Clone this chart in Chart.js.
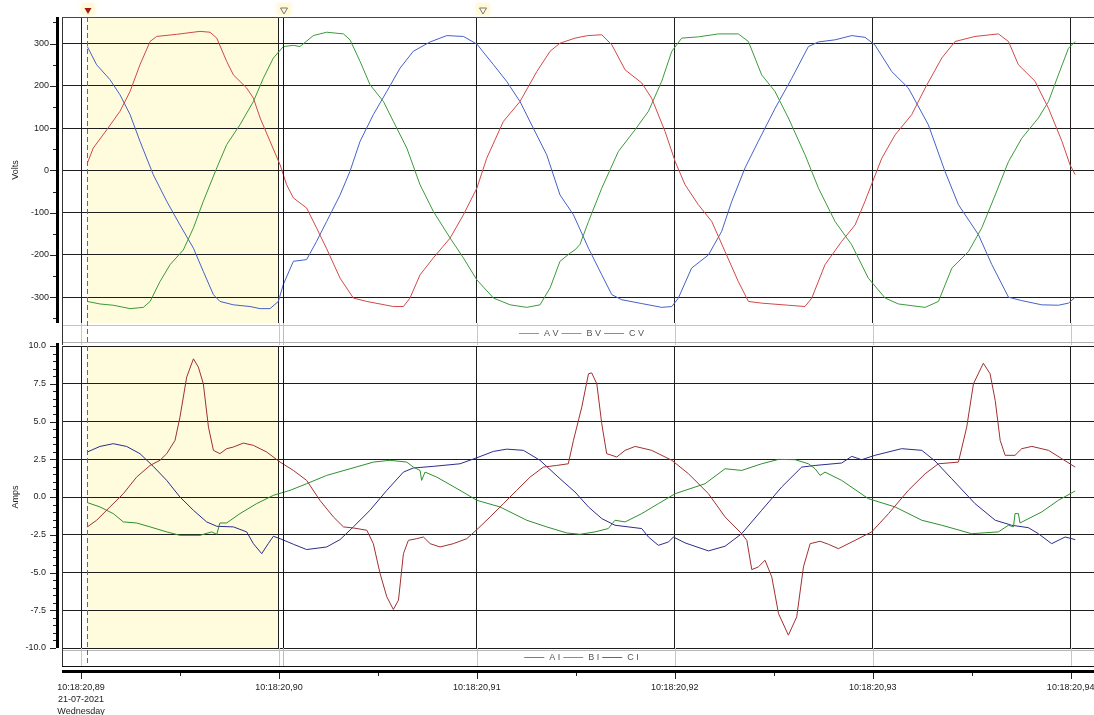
<!DOCTYPE html>
<html>
<head>
<meta charset="utf-8">
<script src="https://cdn.jsdelivr.net/npm/chart.js@4.4.1/dist/chart.umd.min.js"></script>
<style>
  html, body { margin: 0; padding: 0; background: #fff; }
  #wrap { position: relative; width: 1094px; height: 715px; overflow: hidden; background: #fff; }
  #wrap canvas { position: absolute; left: 0; top: 0; }
</style>
</head>
<body>
<div id="wrap">
  <canvas id="volts" width="1094" height="715"></canvas>
  <canvas id="amps" width="1094" height="715"></canvas>
</div>
<script>
// Time axis: milliseconds after 10:18:20,89
const timeLabels = ['10:18:20,89', '10:18:20,90', '10:18:20,91', '10:18:20,92', '10:18:20,93', '10:18:20,94'];
const dateLine = '21-07-2021';
const dayLine = 'Wednesday';

// Cursors (ms) and the highlighted interval
const cursorTimes = [0.32, 10.19, 20.25];
const shadeRange = [0.32, 10.0];

// Phase voltages (V)
const avT = [0.32,0.62,1.30,1.97,2.48,2.98,3.49,3.82,4.83,6.01,6.52,6.86,7.36,7.70,8.37,8.71,9.05,9.55,10.06,10.39,10.73,11.40,11.90,12.40,13.09,13.76,14.44,15.78,16.29,16.62,17.13,17.80,18.65,19.32,20.00,20.50,21.34,22.18,23.03,23.70,24.20,24.96,25.60,26.31,26.82,27.49,28.33,28.83,29.51,30.02,30.52,31.19,31.87,32.54,33.21,33.72,34.39,35.74,36.58,36.92,37.59,38.43,39.11,39.61,40.00,40.46,41.13,41.97,42.65,43.49,44.16,45.17,46.35,46.86,47.36,48.20,48.88,49.56,49.97,50.23];
const avV = [17,53,96,140,187,250,305,317,322,329,327,313,258,226,195,171,124,69,13,-34,-65,-89,-136,-184,-255,-302,-310,-322,-322,-302,-247,-207,-160,-105,-42,29,116,163,234,282,301,313,319,321,297,238,207,171,92,21,-34,-81,-121,-192,-263,-310,-314,-319,-322,-302,-223,-168,-129,-73,-26,29,84,132,195,266,305,317,323,305,250,211,147,69,13,-10];

const bvT = [0.32,0.96,1.63,2.48,3.15,3.49,3.99,4.50,5.17,5.68,6.18,6.86,7.36,8.03,8.71,9.21,9.72,10.22,10.73,11.06,11.74,12.41,13.26,13.59,14.10,14.60,15.28,15.78,16.46,17.13,17.80,18.65,19.32,20.00,20.84,21.68,22.52,23.19,23.70,24.20,24.70,24.96,25.21,25.64,26.31,27.15,27.99,28.67,29.34,29.85,30.35,31.19,32.20,33.21,33.72,34.39,35.06,35.74,36.58,37.26,38.10,38.94,39.78,40.63,41.30,42.65,43.32,44.00,44.84,45.51,46.19,46.86,47.53,48.37,48.88,49.38,49.89,50.23];
const bvV = [-310,-316,-319,-327,-324,-310,-263,-223,-188,-136,-73,6,61,108,163,218,266,293,296,293,319,327,323,309,258,203,163,116,53,-34,-97,-160,-207,-259,-302,-318,-324,-318,-278,-215,-196,-188,-175,-121,-42,45,96,140,211,282,313,316,323,323,305,226,187,124,37,-42,-121,-176,-255,-302,-316,-324,-310,-231,-192,-136,-58,21,76,124,163,226,289,305];

const cvT = [0.32,0.79,1.46,1.97,2.48,2.98,3.65,4.33,5.00,5.68,6.18,6.69,7.02,7.70,8.54,9.05,9.55,9.97,10.22,10.73,11.40,11.90,12.41,13.09,13.59,14.10,14.77,15.45,16.12,16.79,17.64,18.48,19.32,20.00,20.84,21.50,22.18,22.85,23.53,24.20,24.88,25.64,26.31,26.82,27.32,28.33,29.34,29.85,30.18,30.85,31.70,32.37,32.88,33.55,34.22,35.07,35.91,36.75,37.26,38.10,38.94,39.61,40.11,40.96,41.80,42.81,43.65,44.33,45.34,46.02,46.86,47.53,48.54,49.38,49.89,50.23];
const cvV = [293,250,215,179,132,69,-10,-73,-129,-184,-239,-294,-310,-318,-322,-327,-327,-310,-270,-215,-211,-168,-121,-58,-2,69,132,187,242,282,304,319,317,299,250,211,163,100,37,-58,-105,-184,-247,-294,-306,-315,-324,-322,-302,-231,-200,-144,-73,6,69,147,218,293,304,309,319,315,297,234,195,108,-2,-81,-152,-223,-300,-308,-318,-319,-314,-300];

// Phase currents (A)
const aiT = [0.32,0.79,1.46,2.14,2.81,3.49,3.99,4.33,4.75,5.00,5.34,5.68,5.93,6.18,6.44,6.69,7.02,7.36,7.70,8.20,8.71,9.38,10.06,10.73,11.40,12.07,12.75,13.26,13.76,14.44,14.77,15.11,15.45,15.78,16.04,16.29,16.54,16.96,17.30,17.64,18.14,18.81,19.49,20.00,20.67,21.34,22.01,22.69,23.36,24.03,24.62,24.88,25.30,25.64,25.80,26.06,26.31,26.56,27.07,27.49,28.00,28.83,29.85,30.69,31.70,32.54,33.38,33.64,33.89,34.22,34.56,34.90,35.24,35.74,36.16,36.50,36.84,37.34,37.76,38.27,39.11,39.95,40.80,41.80,42.65,43.32,44.33,44.75,45.09,45.59,45.93,46.19,46.44,46.69,47.19,47.53,48.04,48.88,49.55,50.23];
const aiV = [-1.98,-1.54,-0.66,0.22,1.32,2.09,2.43,2.87,3.75,5.29,7.94,9.15,8.60,7.50,4.63,3.09,2.87,3.20,3.31,3.57,3.42,2.98,2.31,1.76,1.10,-0.22,-1.32,-1.98,-2.05,-2.20,-3.09,-5.07,-6.61,-7.45,-6.83,-3.75,-2.87,-2.76,-2.65,-3.09,-3.31,-3.09,-2.76,-2.16,-1.32,-0.44,0.44,1.32,1.98,2.09,2.20,3.75,5.95,8.16,8.22,7.50,4.85,2.87,2.65,3.09,3.35,3.09,2.43,1.54,0.22,-1.32,-2.43,-2.87,-4.81,-4.63,-4.19,-5.29,-7.72,-9.15,-7.94,-4.63,-3.09,-2.93,-3.13,-3.42,-2.87,-2.31,-1.10,0.44,1.54,2.20,2.31,4.63,7.50,8.86,8.16,6.39,3.75,2.76,2.76,3.20,3.35,3.09,2.54,1.98];

const biT = [0.32,0.96,1.63,2.14,2.81,3.49,4.33,5.00,6.01,6.60,6.86,7.02,7.36,8.03,8.87,9.72,10.56,11.40,12.41,13.59,14.77,15.61,16.46,16.79,17.13,17.21,17.38,17.97,19.15,20.00,21.17,22.52,23.53,24.54,25.21,25.97,26.64,26.98,27.49,28.33,29.17,30.02,31.53,32.54,33.38,34.39,35.24,36.08,36.75,37.09,37.34,37.59,38.43,39.78,41.13,42.48,43.49,45.00,46.35,46.86,47.11,47.19,47.36,47.44,48.54,49.38,50.23];
const biV = [-0.37,-0.66,-1.10,-1.65,-1.72,-1.98,-2.31,-2.54,-2.54,-2.31,-2.47,-1.72,-1.72,-1.10,-0.44,0.11,0.44,0.88,1.43,1.87,2.31,2.43,2.31,1.98,1.76,1.10,1.65,1.32,0.44,-0.22,-0.66,-1.54,-1.98,-2.38,-2.47,-2.31,-2.09,-1.54,-1.65,-1.10,-0.44,0.22,0.88,1.87,1.76,2.20,2.49,2.47,2.20,1.87,1.43,1.65,1.10,-0.11,-0.66,-1.54,-1.87,-2.43,-2.31,-1.87,-1.98,-1.10,-1.10,-1.72,-0.99,-0.22,0.40];

const ciT = [0.32,0.96,1.63,2.30,2.98,3.65,4.33,5.00,5.68,6.35,6.86,7.70,8.37,8.71,9.13,9.46,9.72,10.06,10.73,11.40,12.41,13.09,13.76,14.60,15.45,16.29,16.79,17.80,19.15,20.00,20.84,21.51,22.35,23.19,24.20,24.96,25.64,26.31,26.98,28.33,28.67,29.17,29.68,29.93,30.52,31.70,32.54,33.38,34.39,35.40,36.41,37.09,38.43,38.94,39.44,40.11,41.46,42.48,43.15,43.99,45.17,46.19,47.02,47.86,48.37,49.04,49.72,50.23];
const ciV = [2.98,3.35,3.53,3.35,2.87,2.03,1.10,0.00,-0.88,-1.65,-1.94,-1.98,-2.31,-3.09,-3.75,-3.09,-2.60,-2.76,-3.13,-3.48,-3.31,-2.82,-1.98,-0.88,0.44,1.65,1.92,2.03,2.20,2.60,3.02,3.17,3.09,2.43,1.21,0.33,-0.66,-1.43,-1.87,-2.09,-2.65,-3.20,-2.98,-2.65,-3.04,-3.57,-3.26,-2.43,-0.88,0.66,1.98,2.09,2.25,2.69,2.47,2.76,3.20,3.09,2.38,1.21,-0.44,-1.54,-1.87,-2.03,-2.43,-3.09,-2.65,-2.82];

const FONT = "'Liberation Sans', Arial, sans-serif";
const pts = (ts, vs) => ts.map((t, i) => ({ x: t, y: vs[i] }));

function series(label, ts, vs, color) {
  return { label, data: pts(ts, vs), borderColor: color, backgroundColor: color,
           borderWidth: 1, pointRadius: 0, tension: 0, fill: false };
}

// Panel decorations: shading, cursors, axis bars, legend strip, markers
const chrome = {
  id: 'chrome',
  beforeDraw(chart, args, o) {
    const { ctx, chartArea: a } = chart;
    const xs = chart.scales.x;
    const x0 = Math.round(xs.getPixelForValue(shadeRange[0]));
    const x1 = Math.round(xs.getPixelForValue(shadeRange[1]));
    ctx.save();
    ctx.fillStyle = '#fefcdc';
    ctx.fillRect(x0, a.top, x1 - x0, a.bottom - a.top);
    ctx.restore();
  },
  afterDraw(chart, args, o) {
    const { ctx, chartArea: a } = chart;
    const xs = chart.scales.x, ys = chart.scales.y;
    const W = chart.width;
    ctx.save();

    // legend strip below the plot
    ctx.fillStyle = '#fff';
    ctx.fillRect(a.left, a.bottom + 1, W - a.left, o.stripBottom - a.bottom - 1);
    for (let v = 0; v <= 50; v += 10) {
      const x = Math.round(xs.getPixelForValue(v)) + 0.5;
      ctx.strokeStyle = '#c8c8c8'; ctx.lineWidth = 1;
      ctx.beginPath(); ctx.moveTo(x, a.bottom); ctx.lineTo(x, o.stripBottom); ctx.stroke();
    }
    o.stripLines.forEach(l => {
      ctx.strokeStyle = l.c; ctx.lineWidth = 1;
      ctx.beginPath(); ctx.moveTo(a.left, l.y + 0.5); ctx.lineTo(W, l.y + 0.5); ctx.stroke();
    });

    // cursors
    const xc0 = Math.round(xs.getPixelForValue(cursorTimes[0])) + 0.5;
    const xc1 = Math.round(xs.getPixelForValue(cursorTimes[1])) + 0.5;
    ctx.strokeStyle = '#c84040'; ctx.lineWidth = 1; ctx.setLineDash([5, 3]);
    ctx.beginPath(); ctx.moveTo(xc0, a.top); ctx.lineTo(xc0, o.stripBottom); ctx.stroke();
    ctx.setLineDash([]);
    ctx.strokeStyle = '#111';
    ctx.beginPath(); ctx.moveTo(xc1, a.top); ctx.lineTo(xc1, a.bottom); ctx.stroke();
    ctx.strokeStyle = '#bbb';
    ctx.beginPath(); ctx.moveTo(xc1, a.bottom); ctx.lineTo(xc1, o.stripBottom); ctx.stroke();

    // plot frame (left edge and top)
    ctx.strokeStyle = '#333';
    ctx.beginPath(); ctx.moveTo(a.left + 0.5, a.top); ctx.lineTo(a.left + 0.5, o.stripBottom); ctx.stroke();
    if (o.topLine) {
      ctx.strokeStyle = '#444';
      ctx.beginPath(); ctx.moveTo(a.left, a.top + 0.5); ctx.lineTo(W, a.top + 0.5); ctx.stroke();
    }

    // legend
    ctx.font = '9px ' + FONT;
    ctx.textBaseline = 'middle'; ctx.textAlign = 'left';
    const items = chart.data.datasets.map(d => ({ label: d.label, color: d.borderColor }));
    const sample = 20, gapA = 5, gapB = 3;
    let total = 0;
    items.forEach(it => { it.w = ctx.measureText(it.label).width; total += sample + gapA + it.w + gapB; });
    let lx = o.legendX - total / 2;
    items.forEach(it => {
      ctx.strokeStyle = it.color; ctx.globalAlpha = 0.75;
      ctx.beginPath(); ctx.moveTo(lx, o.legendY + 0.5); ctx.lineTo(lx + sample, o.legendY + 0.5); ctx.stroke();
      ctx.globalAlpha = 1;
      lx += sample + gapA;
      ctx.fillStyle = '#555';
      ctx.fillText(it.label, lx, o.legendY + 1);
      lx += it.w + gapB;
    });

    // y axis bar with major and minor ticks
    ctx.fillStyle = '#000';
    ctx.fillRect(56, o.barTop, 3, a.bottom - o.barTop);
    ctx.strokeStyle = '#222'; ctx.lineWidth = 1;
    const lo = ys.min, hi = ys.max;
    for (let v = Math.ceil(lo / o.minorStep) * o.minorStep; v <= hi + 1e-9; v += o.minorStep) {
      const y = Math.round(ys.getPixelForValue(v)) + 0.5;
      const major = Math.abs(v / o.majorStep - Math.round(v / o.majorStep)) < 1e-6;
      ctx.beginPath(); ctx.moveTo(major ? 50 : 53, y); ctx.lineTo(56, y); ctx.stroke();
    }

    // time axis bar
    if (o.timeAxis) {
      ctx.fillStyle = '#000';
      ctx.fillRect(a.left, 670, W - a.left, 3);
      ctx.strokeStyle = '#222';
      for (let v = 0; v <= 50; v += 5) {
        const x = Math.round(xs.getPixelForValue(v)) + 0.5;
        const major = v % 10 === 0;
        ctx.beginPath(); ctx.moveTo(x, 673); ctx.lineTo(x, major ? 679 : 676); ctx.stroke();
      }
    }

    // cursor markers above the top panel
    if (o.markers) {
      cursorTimes.forEach((t, i) => {
        const x = Math.round(xs.getPixelForValue(t)) + 1;
        ctx.save();
        ctx.fillStyle = 'rgba(255,247,200,0.45)';
        ctx.shadowColor = 'rgba(255,242,180,0.9)'; ctx.shadowBlur = 5;
        ctx.fillRect(x - 7, 3, 14, 12);
        ctx.restore();
        ctx.beginPath();
        ctx.moveTo(x - 3.5, 8); ctx.lineTo(x + 3.5, 8); ctx.lineTo(x, 14); ctx.closePath();
        if (i === 0) { ctx.fillStyle = '#a01818'; ctx.fill(); }
        else { ctx.strokeStyle = '#777'; ctx.lineWidth = 1; ctx.stroke(); }
      });
    }
    ctx.restore();
  }
};

function baseOptions(cfg) {
  return {
    responsive: false,
    animation: false,
    devicePixelRatio: 1,
    events: [],
    layout: { padding: { top: cfg.top, left: 0, right: 0, bottom: 0 } },
    plugins: { legend: { display: false }, tooltip: { enabled: false }, chrome: cfg.chrome },
    scales: {
      x: {
        type: 'linear', min: -0.96, max: 51.18,
        grid: { color: '#1e1e1e', lineWidth: 1, drawTicks: false },
        border: { display: false },
        ticks: cfg.xTicks,
        afterFit: s => { s.height = cfg.xHeight; s.paddingLeft = 0; s.paddingRight = 0; }
      },
      y: {
        min: cfg.yMin, max: cfg.yMax,
        grid: { color: '#1e1e1e', lineWidth: 1, drawTicks: false },
        border: { display: false },
        ticks: { stepSize: cfg.yStep, includeBounds: false, padding: cfg.yPad,
                 color: '#222', font: { family: FONT, size: 9 },
                 callback: cfg.yFmt },
        title: { display: true, text: cfg.yTitle, color: '#222',
                 font: { family: FONT, size: 9 }, padding: { top: 10, bottom: 0 } },
        afterFit: s => { s.width = 62; s.paddingTop = 0; s.paddingBottom = 0; }
      }
    }
  };
}

new Chart(document.getElementById('volts'), {
  type: 'line',
  data: { datasets: [
    series('A V', avT, avV, '#d24848'),
    series('B V', bvT, bvV, '#3c9a3c'),
    series('C V', cvT, cvV, '#4660c8')
  ] },
  options: baseOptions({
    top: 17, xHeight: 392, yMin: -361, yMax: 363, yStep: 100, yPad: 13, yTitle: 'Volts',
    yFmt: v => String(v),
    xTicks: { display: false, stepSize: 10, includeBounds: false },
    chrome: { stripBottom: 345, stripLines: [{ y: 325, c: '#c4c4c4' }, { y: 342, c: '#b0b0b0' }],
              legendX: 583, legendY: 333, barTop: 17, minorStep: 50, majorStep: 100,
              topLine: true, markers: true, timeAxis: false }
  }),
  plugins: [chrome]
});

new Chart(document.getElementById('amps'), {
  type: 'line',
  data: { datasets: [
    series('A I', aiT, aiV, '#a03030'),
    series('B I', biT, biV, '#2f8f2f'),
    series('C I', ciT, ciV, '#2c2c8c')
  ] },
  options: baseOptions({
    top: 346, xHeight: 67, yMin: -10, yMax: 10, yStep: 2.5, yPad: 16, yTitle: 'Amps',
    yFmt: v => v.toFixed(1),
    xTicks: {
      stepSize: 10, includeBounds: false, autoSkip: false, maxRotation: 0, padding: 34,
      color: '#222', font: { family: FONT, size: 9, lineHeight: 1.3 },
      callback: v => {
        const i = Math.round(v / 10);
        return i === 0 ? [timeLabels[0], dateLine, dayLine] : timeLabels[i];
      }
    },
    chrome: { stripBottom: 666, stripLines: [{ y: 650, c: '#b8b8b8' }, { y: 666, c: '#111' }],
              legendX: 583, legendY: 657, barTop: 343, minorStep: 0.5, majorStep: 2.5,
              topLine: false, markers: false, timeAxis: true }
  }),
  plugins: [chrome]
});
</script>
</body>
</html>
